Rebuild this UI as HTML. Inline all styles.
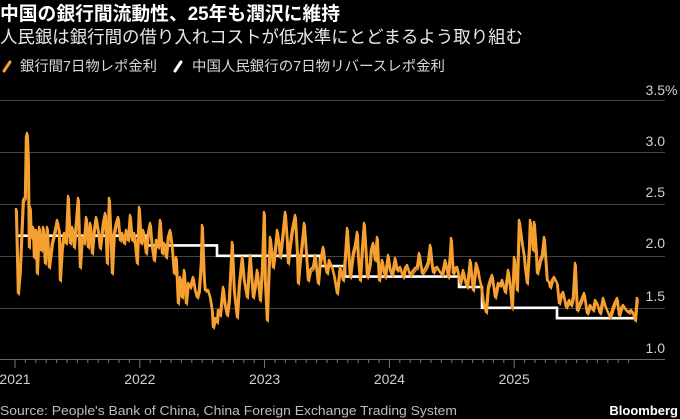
<!DOCTYPE html>
<html><head><meta charset="utf-8"><style>
html,body{margin:0;padding:0;background:#000;}
svg{display:block;}
</style></head><body>
<svg width="680" height="419" viewBox="0 0 680 419" xmlns="http://www.w3.org/2000/svg">
<defs>
<polyline id="ser" fill="none" stroke-linejoin="round" points="
16,208 18,293 20,270 22,223 23,200 25,197 26,137 27,133 28,157 29,247 30,207 31,237 33,227 34,257 36,230 37,273 39,227 41,250 43,227 45,263 47,227 49,267 52,243 55,230 57,220 59,230 60,280 62,247 64,233 66,243 68,196 70,243 72,227 74,247 76,223 78,198 80,267 82,237 84,243 86,217 88,247 90,223 92,253 94,230 96,217 98,230 100,248 103,223 105,213 107,263 109,198 111,243 112,273 114,233 116,223 118,217 120,240 122,233 124,243 126,230 128,240 130,215 132,240 134,233 137,263 139,207 141,243 143,230 146,253 148,233 150,223 152,247 154,260 156,240 158,247 160,220 162,253 164,243 166,257 168,237 170,230 172,247 174,273 176,257 178,303 180,277 182,297 184,270 186,303 188,283 190,287 193,277 195,290 197,297 199,290 201,263 202,225 204,277 205,290 208,290 210,297 212,310 213,327 215,318 217,322 218,310 220,315 223,287 225,305 227,315 229,300 232,242 234,290 237,317 239,285 242,257 244,280 247,297 250,255 253,297 255,285 257,270 260,300 262,270 264,212 265,280 267,320 268,290 270,237 272,255 273,267 275,250 277,230 279,245 280,257 282,240 285,212 287,240 288,263 290,245 292,230 295,215 297,250 298,283 300,260 302,243 304,223 306,250 308,280 310,270 313,267 315,255 318,283 320,262 323,247 325,265 327,273 329,260 332,267 334,275 337,293 340,267 343,280 345,258 347,228 349,260 350,277 353,253 355,245 357,232 358,255 360,280 362,250 364,223 366,255 367,277 370,263 371,250 373,243 375,260 377,237 379,280 382,260 385,277 388,255 390,270 392,275 395,258 397,270 400,267 403,277 405,268 407,265 410,275 412,272 415,268 417,267 419,253 422,273 424,270 426,267 428,262 430,245 432,265 433,272 435,268 437,267 440,272 442,275 445,260 447,270 448,277 450,255 451,238 453,273 455,268 457,267 460,283 462,275 463,270 465,280 467,287 469,270 470,260 472,280 473,290 476,263 478,270 479,277 481,285 483,300 486,312 488,287 490,280 492,275 494,290 495,297 498,283 500,285 502,280 505,292 508,270 510,285 512,308 514,257 516,275 517,290 519,220 521,235 522,243 524,255 525,267 527,283 529,250 530,220 532,240 533,250 534,222 536,250 537,273 539,265 540,260 542,255 544,237 546,265 547,280 549,282 550,287 552,280 554,277 557,283 559,303 561,295 563,292 566,307 569,300 571,305 573,297 575,263 577,310 580,303 582,298 584,293 587,313 590,305 593,310 595,300 597,303 600,313 603,298 605,305 607,310 610,317 613,307 615,302 617,298 619,315 621,308 623,305 626,310 629,312 631,310 633,313 635,320 637,297"/>
</defs>
<rect width="680" height="419" fill="#000"/>
<g font-family="'Liberation Sans','Noto Sans CJK JP',sans-serif">
<text x="0" y="20" font-size="19" font-weight="bold" fill="#fff" textLength="340" lengthAdjust="spacingAndGlyphs">中国の銀行間流動性、25年も潤沢に維持</text>
<text x="0" y="43" font-size="17.5" fill="#e8e8e8" textLength="523" lengthAdjust="spacingAndGlyphs">人民銀は銀行間の借り入れコストが低水準にとどまるよう取り組む</text>
<line x1="4" y1="71" x2="10" y2="62" stroke="#f5a031" stroke-width="3" stroke-linecap="round"/>
<text x="20" y="71" font-size="14.4" fill="#d8d8d8" textLength="137" lengthAdjust="spacingAndGlyphs">銀行間7日物レポ金利</text>
<line x1="175" y1="71" x2="181" y2="62" stroke="#fff" stroke-width="3" stroke-linecap="round"/>
<text x="192" y="71" font-size="14.4" fill="#d8d8d8" textLength="253" lengthAdjust="spacingAndGlyphs">中国人民銀行の7日物リバースレポ金利</text>
</g>
<g stroke="#444" stroke-width="1">
<line x1="0" y1="100.5" x2="665" y2="100.5"/>
<line x1="0" y1="152.5" x2="665" y2="152.5"/>
<line x1="0" y1="204.5" x2="665" y2="204.5"/>
<line x1="0" y1="256.5" x2="665" y2="256.5"/>
<line x1="0" y1="308.5" x2="665" y2="308.5"/>
</g>
<line x1="0" y1="359.5" x2="665" y2="359.5" stroke="#666" stroke-width="1"/>
<path stroke="#777" stroke-width="1" fill="none" d="M15 359V368M139.8 359V368M264.6 359V368M389.4 359V368M514.2 359V368
M25.4 359V363M35.8 359V363M46.2 359V363M56.6 359V363M67 359V363M77.4 359V363M87.8 359V363M98.2 359V363M108.6 359V363M119 359V363M129.4 359V363
M150.2 359V363M160.6 359V363M171 359V363M181.4 359V363M191.8 359V363M202.2 359V363M212.6 359V363M223 359V363M233.4 359V363M243.8 359V363M254.2 359V363
M275 359V363M285.4 359V363M295.8 359V363M306.2 359V363M316.6 359V363M327 359V363M337.4 359V363M347.8 359V363M358.2 359V363M368.6 359V363M379 359V363
M399.8 359V363M410.2 359V363M420.6 359V363M431 359V363M441.4 359V363M451.8 359V363M462.2 359V363M472.6 359V363M483 359V363M493.4 359V363M503.8 359V363
M524.6 359V363M535 359V363M545.4 359V363M555.8 359V363M566.2 359V363M576.6 359V363M587 359V363M597.4 359V363M607.8 359V363M618.2 359V363M628.6 359V363"/>
<g font-family="'Liberation Sans',sans-serif" font-size="14" fill="#d0d0d0">
<text x="665" y="95" text-anchor="end">3.5</text><text x="665" y="95">%</text>
<text x="665" y="146" text-anchor="end">3.0</text>
<text x="665" y="197" text-anchor="end">2.5</text>
<text x="665" y="248" text-anchor="end">2.0</text>
<text x="665" y="301" text-anchor="end">1.5</text>
<text x="665" y="353" text-anchor="end">1.0</text>
<text x="15" y="384" text-anchor="middle">2021</text>
<text x="139.8" y="384" text-anchor="middle">2022</text>
<text x="264.6" y="384" text-anchor="middle">2023</text>
<text x="389.4" y="384" text-anchor="middle">2024</text>
<text x="514.2" y="384" text-anchor="middle">2025</text>
</g>
<path fill="none" stroke="#fff" stroke-width="2.6" d="M18 235.7H146V245.4H217V255.8H320V266H345V276.6H459V287H482V307.8H557V318.2H637"/>
<use href="#ser" stroke="#f5a031" stroke-width="2.4"/>
<use href="#ser" stroke="#f5a031" stroke-width="1.4" transform="translate(1.2,2)"/>
<text x="0" y="415" font-family="'Liberation Sans',sans-serif" font-size="13" fill="#bdbdbd" textLength="457" lengthAdjust="spacingAndGlyphs">Source: People's Bank of China, China Foreign Exchange Trading System</text>
<text x="678" y="415" font-family="'Liberation Sans',sans-serif" font-size="13" font-weight="bold" fill="#fff" text-anchor="end">Bloomberg</text>
</svg>
</body></html>
